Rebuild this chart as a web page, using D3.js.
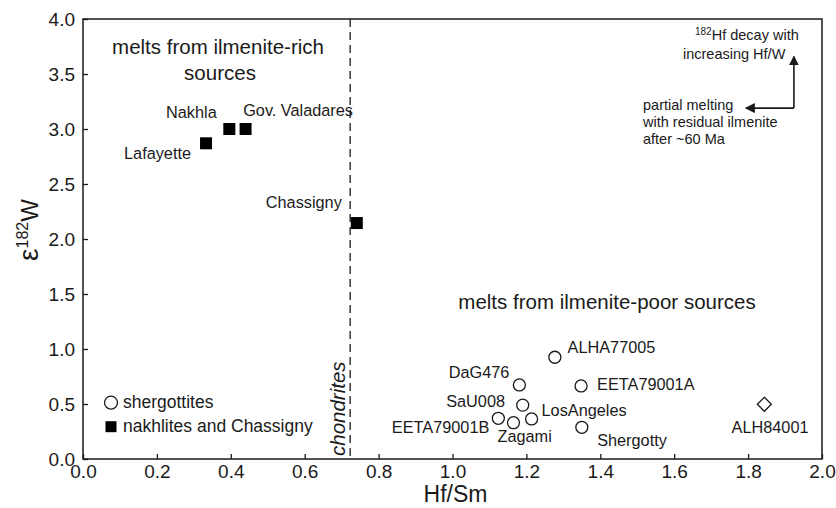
<!DOCTYPE html>
<html>
<head>
<meta charset="utf-8">
<script src="https://cdn.jsdelivr.net/npm/d3@7"></script>
<style>
  html, body { margin: 0; padding: 0; background: #fff; }
  svg { display: block; font-family: "Liberation Sans", Arial, Helvetica, sans-serif; }
</style>
</head>
<body>
<svg id="chart" width="836" height="508"></svg>
<script>
// Shergottites (open circles)
const shergottiteNames = ["ALHA77005", "DaG476", "EETA79001A", "SaU008", "LosAngeles", "EETA79001B", "Zagami", "Shergotty"];
const shergottiteHfSm  = [1.277, 1.181, 1.348, 1.190, 1.214, 1.124, 1.165, 1.350];
const shergottiteW     = [0.925, 0.673, 0.664, 0.490, 0.364, 0.370, 0.330, 0.288];

// Nakhlites and Chassigny (filled squares)
const nakhliteNames = ["Nakhla", "Gov. Valadares", "Lafayette", "Chassigny"];
const nakhliteHfSm  = [0.396, 0.440, 0.333, 0.741];
const nakhliteW     = [3.00, 3.00, 2.87, 2.145];

// Orthopyroxenite (open diamond)
const otherNames = ["ALH84001"];
const otherHfSm  = [1.844];
const otherW     = [0.497];

// Chondritic Hf/Sm reference
const chondriteHfSm = 0.723;

// Axis ticks
const xTicks = [0.0, 0.2, 0.4, 0.6, 0.8, 1.0, 1.2, 1.4, 1.6, 1.8, 2.0];
const yTicks = [0.0, 0.5, 1.0, 1.5, 2.0, 2.5, 3.0, 3.5, 4.0];

// Label placement relative to each marker: [dx, dy, anchor]
const labelPlacement = {
  "ALHA77005":      [12.7, -4.6, "start"],
  "DaG476":         [-10, -6.7, "end"],
  "EETA79001A":     [16, 4, "start"],
  "SaU008":         [-17.7, 1.7, "end"],
  "LosAngeles":     [10, -3, "start"],
  "EETA79001B":     [-9, 15, "end"],
  "Zagami":         [-16, 19, "start"],
  "Shergotty":      [15.3, 18.7, "start"],
  "ALH84001":       [5.7, 29, "middle"],
  "Nakhla":         [-12.6, -10.7, "end"],
  "Gov. Valadares": [-2.4, -13, "start"],
  "Lafayette":      [-15, 16, "end"],
  "Chassigny":      [-15, -14.7, "end"]
};

const svg = d3.select("#chart");
const ink = "#1a1a1a";

const x = d3.scaleLinear().domain([0, 2]).range([83, 822]);
const y = d3.scaleLinear().domain([0, 4]).range([459, 19]);

// Frame
svg.append("rect")
  .attr("x", x(0)).attr("y", y(4))
  .attr("width", x(2) - x(0)).attr("height", y(0) - y(4))
  .attr("fill", "none").attr("stroke", ink).attr("stroke-width", 1.5);

// Axes with inward ticks
const xAxis = svg.append("g").attr("transform", `translate(0,${y(0)})`)
  .call(d3.axisBottom(x).tickValues(xTicks).tickFormat(d3.format(".1f"))
    .tickSizeInner(-5).tickSizeOuter(0).tickPadding(6));
const yAxis = svg.append("g").attr("transform", `translate(${x(0)},0)`)
  .call(d3.axisLeft(y).tickValues(yTicks).tickFormat(d3.format(".1f"))
    .tickSizeInner(-5).tickSizeOuter(0).tickPadding(8));
[xAxis, yAxis].forEach(g => {
  g.select(".domain").remove();
  g.selectAll(".tick line").attr("stroke", ink).attr("stroke-width", 1.3);
  g.selectAll(".tick text").attr("fill", ink).attr("font-size", 19)
    .attr("font-family", "'Liberation Sans', Arial, sans-serif");
});

// Axis titles
svg.append("text")
  .attr("x", (x(0) + x(2)) / 2 + 3).attr("y", 502)
  .attr("text-anchor", "middle").attr("font-size", 23).attr("fill", ink)
  .text("Hf/Sm");

const yTitle = svg.append("text")
  .attr("transform", `translate(38,230) rotate(-90)`)
  .attr("text-anchor", "middle").attr("fill", ink);
yTitle.append("tspan").attr("font-size", 28).text("ε");
yTitle.append("tspan").attr("font-size", 16).attr("dy", -10).text("182");
yTitle.append("tspan").attr("font-size", 24).attr("dy", 10).text("W");

// Chondritic reference line
svg.append("line")
  .attr("x1", x(chondriteHfSm)).attr("x2", x(chondriteHfSm))
  .attr("y1", y(4)).attr("y2", y(0))
  .attr("stroke", ink).attr("stroke-width", 1.3)
  .attr("stroke-dasharray", "8,5");
svg.append("text")
  .attr("transform", `translate(${x(chondriteHfSm) - 5},456) rotate(-90)`)
  .attr("font-size", 20.5).attr("font-style", "italic").attr("fill", ink)
  .text("chondrites");

// Region annotations
svg.append("text").attr("x", 218).attr("y", 54).attr("text-anchor", "middle")
  .attr("font-size", 20.5).attr("fill", ink).text("melts from ilmenite-rich");
svg.append("text").attr("x", 220).attr("y", 80).attr("text-anchor", "middle")
  .attr("font-size", 20.5).attr("fill", ink).text("sources");
svg.append("text").attr("x", 607).attr("y", 309).attr("text-anchor", "middle")
  .attr("font-size", 20.5).attr("fill", ink).text("melts from ilmenite-poor sources");

// Process arrows (top right)
const defs = svg.append("defs");
defs.append("marker").attr("id", "head")
  .attr("viewBox", "0 0 10 10").attr("refX", 9).attr("refY", 5)
  .attr("markerWidth", 10).attr("markerHeight", 10).attr("markerUnits", "userSpaceOnUse")
  .attr("orient", "auto")
  .append("path").attr("d", "M0,0 L10,5 L0,10 Z").attr("fill", ink);

const corner = [x(1.924), y(3.19)];
svg.append("line")
  .attr("x1", corner[0]).attr("y1", corner[1])
  .attr("x2", corner[0]).attr("y2", y(3.66))
  .attr("stroke", ink).attr("stroke-width", 1.6).attr("marker-end", "url(#head)");
svg.append("line")
  .attr("x1", corner[0]).attr("y1", corner[1])
  .attr("x2", x(1.794)).attr("y2", corner[1])
  .attr("stroke", ink).attr("stroke-width", 1.6).attr("marker-end", "url(#head)");

const decay = svg.append("text").attr("x", 695).attr("y", 40)
  .attr("font-size", 14.5).attr("fill", ink);
decay.append("tspan").attr("font-size", 10).attr("dy", -5).text("182");
decay.append("tspan").attr("dy", 5).text("Hf decay with");
svg.append("text").attr("x", 683).attr("y", 59)
  .attr("font-size", 14.5).attr("fill", ink).text("increasing Hf/W");

["partial melting", "with residual ilmenite", "after ~60 Ma"].forEach((t, i) => {
  svg.append("text").attr("x", 643).attr("y", 110 + i * 17)
    .attr("font-size", 14.5).attr("fill", ink).text(t);
});

// Markers
const labels = svg.append("g").attr("font-size", 16.3).attr("fill", ink);
function addLabel(name, px, py) {
  const p = labelPlacement[name];
  labels.append("text").attr("x", px + p[0]).attr("y", py + p[1])
    .attr("text-anchor", p[2]).text(name);
}

shergottiteNames.forEach((n, i) => {
  svg.append("circle")
    .attr("cx", x(shergottiteHfSm[i])).attr("cy", y(shergottiteW[i])).attr("r", 6)
    .attr("fill", "#fff").attr("stroke", ink).attr("stroke-width", 1.3);
  addLabel(n, x(shergottiteHfSm[i]), y(shergottiteW[i]));
});

nakhliteNames.forEach((n, i) => {
  svg.append("rect")
    .attr("x", x(nakhliteHfSm[i]) - 6).attr("y", y(nakhliteW[i]) - 6)
    .attr("width", 12).attr("height", 12).attr("fill", "#000");
  addLabel(n, x(nakhliteHfSm[i]), y(nakhliteW[i]));
});

otherNames.forEach((n, i) => {
  const cx = x(otherHfSm[i]), cy = y(otherW[i]);
  svg.append("path")
    .attr("d", `M${cx},${cy - 7} L${cx + 7},${cy} L${cx},${cy + 7} L${cx - 7},${cy} Z`)
    .attr("fill", "#fff").attr("stroke", ink).attr("stroke-width", 1.3);
  addLabel(n, cx, cy);
});

// Legend
const legend = svg.append("g").attr("font-size", 17.5).attr("fill", ink);
legend.append("circle").attr("cx", 111).attr("cy", 402.7).attr("r", 6.5)
  .attr("fill", "#fff").attr("stroke", ink).attr("stroke-width", 1.3);
legend.append("text").attr("x", 123).attr("y", 408.3).text("shergottites");
legend.append("rect").attr("x", 105.5).attr("y", 421.2).attr("width", 11).attr("height", 11)
  .attr("fill", "#000");
legend.append("text").attr("x", 123).attr("y", 432.3).text("nakhlites and Chassigny");
</script>
</body>
</html>
